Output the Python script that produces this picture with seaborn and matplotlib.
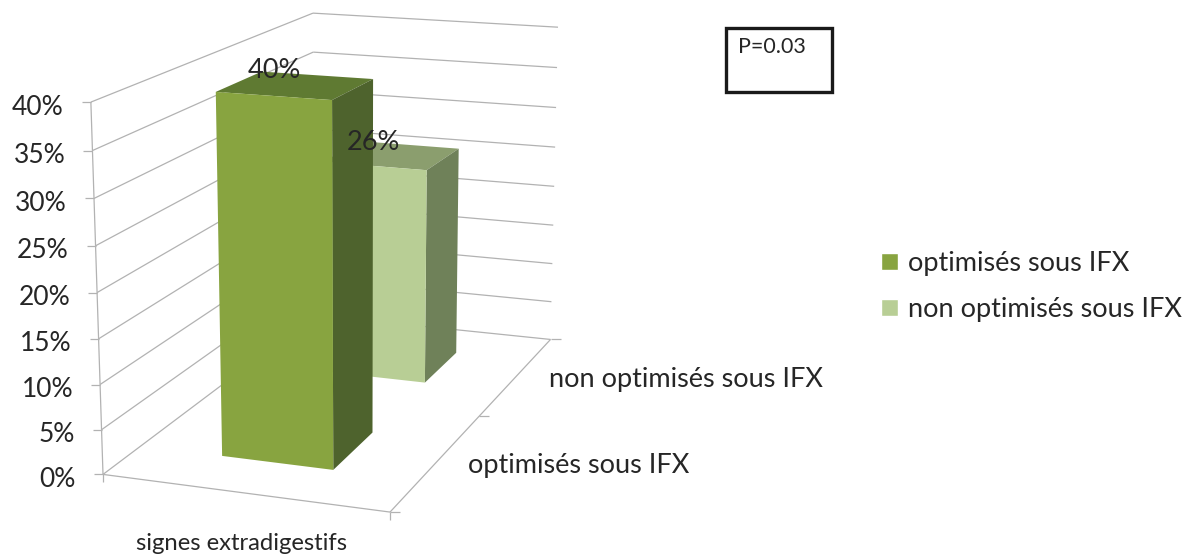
import numpy as np
import pandas as pd
import matplotlib.pyplot as plt
import seaborn as sns

# Data
groupes = ["optimisés sous IFX", "non optimisés sous IFX"]
valeurs = [40, 26]
categorie = "signes extradigestifs"
niveaux = [0, 5, 10, 15, 20, 25, 30, 35, 40]
p_value = "P=0.03"

# Colours (front, top, side)
FRONT = ["#88A440", "#B8CE95"]
TOP = ["#5F7A32", "#8B9E6E"]
SIDE = ["#4E632D", "#6F8159"]
GRID = "#B2B2B2"
TEXT = "#262626"

# Excel style 3D bars: gap width 150%
BAR_WIDTH = 0.4
BAR_DEPTH = 0.2
DEPTH_CENTERS = [0.25, 0.75]
Z_MAX = 40

# Box corners (x, depth, z) and where they land in the image
CALIB_3D = [
    (0, 0, 0), (1, 0, 0), (1, 1, 0), (0, 1, 0),
    (0, 0, 40), (0, 1, 40), (1, 1, 40),
    (0.3, 0.15, 40), (0.7, 0.15, 40), (0.7, 0.35, 40),
]
CALIB_PX = [
    (102, 474), (390, 512), (550, 340), (316, 315),
    (91, 103), (312, 13), (558, 27),
    (216, 92), (333, 99.5), (373, 79),
]


def fit_projection(pts3d, pts2d):
    rows = []
    for (x, y, z), (u, v) in zip(pts3d, pts2d):
        z = z / Z_MAX
        rows.append([x, y, z, 1, 0, 0, 0, 0, -u * x, -u * y, -u * z, -u])
        rows.append([0, 0, 0, 0, x, y, z, 1, -v * x, -v * y, -v * z, -v])
    return np.linalg.svd(np.array(rows, dtype=float))[2][-1].reshape(3, 4)


P = fit_projection(CALIB_3D, CALIB_PX)


def project(x, y, z):
    h = P @ np.array([x, y, z / Z_MAX, 1.0])
    return h[0] / h[2], h[1] / h[2]


sns.set_theme(style="white")
plt.rcParams["font.family"] = ["Lato", "DejaVu Sans"]

df = pd.DataFrame({"groupe": groupes, "pct": valeurs})

fig = plt.figure(figsize=(11.86, 5.56), dpi=100)
ax = fig.add_axes([0, 0, 1, 1])

sns.barplot(data=df, x="groupe", y="pct", hue="groupe", palette=FRONT,
            saturation=1, dodge=False, legend=True, ax=ax)

heights = [p.get_height() for p in ax.patches if p.get_height() > 0]

sns.move_legend(
    ax, "upper left", bbox_to_anchor=(881, 251), bbox_transform=ax.transData,
    frameon=False, title="", fontsize=19.5, borderpad=0, borderaxespad=0,
    handlelength=0.63, handleheight=0.63, handletextpad=0.36, labelspacing=0.78,
    labelcolor=TEXT,
)

# the flat bars only give the heights, the boxes are drawn below
for p in list(ax.patches):
    p.remove()

ax.set_xlim(0, 1186)
ax.set_ylim(556, 0)
ax.set_axis_off()


def line(a, b, **kw):
    ax.plot([a[0], b[0]], [a[1], b[1]], color=GRID, lw=0.9, zorder=1,
            solid_capstyle="butt", **kw)


def tick(point, dx, dy):
    line(point, (point[0] + dx, point[1] + dy))


# Walls
for z in niveaux:
    line(project(0, 0, z), project(0, 1, z))
    line(project(0, 1, z), project(1, 1, z))
    tick(project(0, 0, z), -9, 0)
    px, py = project(0, 0, z)
    ax.text(px - 27, py + 5, f"{z}%", ha="right", va="center",
            fontsize=19, color=TEXT, zorder=5)

# Floor edges and axis ticks
line(project(0, 0, 0), project(0, 0, Z_MAX))
line(project(0, 0, 0), project(1, 0, 0))
line(project(1, 0, 0), project(1, 1, 0))
tick(project(0, 0, 0), 0, 8)
tick(project(1, 0, 0), 0, 8)
for depth in [0, 0.5, 1]:
    tick(project(1, depth, 0), 10, 0)

# Bars, back to front
order = np.argsort(DEPTH_CENTERS)[::-1]
for i in order:
    h = heights[i]
    x0, x1 = 0.5 - BAR_WIDTH / 2, 0.5 + BAR_WIDTH / 2
    y0, y1 = DEPTH_CENTERS[i] - BAR_DEPTH / 2, DEPTH_CENTERS[i] + BAR_DEPTH / 2
    zo = 2 + (len(heights) - i)
    faces = [
        ([(x0, y0, h), (x1, y0, h), (x1, y1, h), (x0, y1, h)], TOP[i]),
        ([(x1, y0, 0), (x1, y1, 0), (x1, y1, h), (x1, y0, h)], SIDE[i]),
        ([(x0, y0, 0), (x1, y0, 0), (x1, y0, h), (x0, y0, h)], FRONT[i]),
    ]
    for corners, color in faces:
        xy = [project(*c) for c in corners]
        ax.fill(*zip(*xy), color=color, lw=0, zorder=zo)

# Value labels
for txt, (cx, cy) in zip(valeurs, [(274, 71), (373, 142)]):
    ax.text(cx, cy, f"{txt}%", ha="center", va="center", fontsize=19.5,
            color=TEXT, zorder=6)

# Axis labels
ax.text(549, 380, groupes[1], ha="left", va="center", fontsize=19.5, color=TEXT)
ax.text(468, 466, groupes[0], ha="left", va="center", fontsize=19.5, color=TEXT)
ax.text(242, 544, categorie, ha="center", va="center", fontsize=17.2, color=TEXT)

# P value box
ax.add_patch(plt.Rectangle((726, 27.5), 105.5, 64, fill=False, ec="#1A1A1A",
                           lw=2.4, zorder=6))
ax.text(738, 47, p_value, ha="left", va="center", fontsize=15.5, color=TEXT,
        zorder=6)

fig.savefig("out.png", dpi=100)
